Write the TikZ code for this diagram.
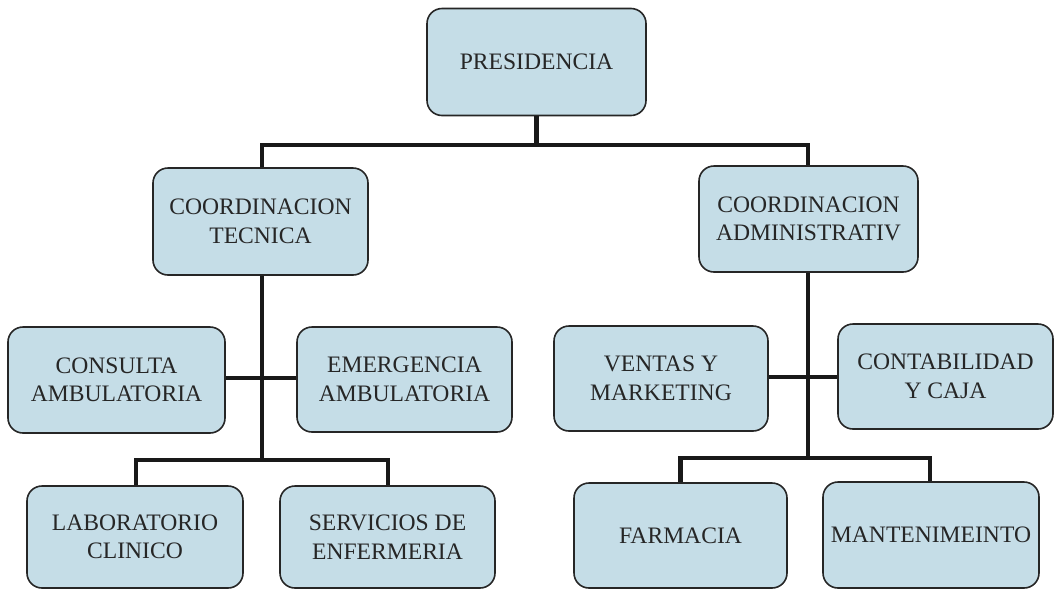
\documentclass[tikz,border=0pt]{standalone}
\usepackage{fontspec}
\setmainfont{Liberation Serif}
\begin{document}
\begin{tikzpicture}[x=1pt,y=-1pt,
  orgbox/.style={draw=black!85, line width=1.6pt, fill=boxblue, rounded corners=15pt,
    align=center, inner sep=0pt, font=\fontsize{23.6}{28.5}\selectfont, text=black!85},
  link/.style={line width=4.5pt, draw=black!90}]
\definecolor{boxblue}{RGB}{197,221,231}
\useasboundingbox (0,0) rectangle (1062,590);
\node[orgbox, minimum width=219pt, minimum height=107pt] (P) at (536.5,62) {PRESIDENCIA};
\node[orgbox, minimum width=215pt, minimum height=107pt] (CT) at (260.5,221.5) {COORDINACION\\TECNICA};
\node[orgbox, minimum width=219pt, minimum height=106pt] (CA) at (808.5,219) {COORDINACION\\ADMINISTRATIV};
\node[orgbox, minimum width=217pt, minimum height=106pt] (CON) at (116.5,380) {CONSULTA\\AMBULATORIA};
\node[orgbox, minimum width=215pt, minimum height=105pt] (EME) at (404.5,379.5) {EMERGENCIA\\AMBULATORIA};
\node[orgbox, minimum width=216pt, minimum height=102pt] (LAB) at (135,537) {LABORATORIO\\CLINICO};
\node[orgbox, minimum width=215pt, minimum height=102pt] (SER) at (387.5,537) {SERVICIOS DE\\ENFERMERIA};
\node[orgbox, minimum width=214pt, minimum height=105pt] (VEN) at (661,378.5) {VENTAS Y\\MARKETING};
\node[orgbox, minimum width=215pt, minimum height=105pt] (CONT) at (945.5,376.5) {CONTABILIDAD\\Y CAJA};
\node[orgbox, minimum width=213pt, minimum height=105pt] (FAR) at (680.5,535.5) {FARMACIA};
\node[orgbox, minimum width=216pt, minimum height=106pt] (MAN) at (931,535) {MANTENIMEINTO};
% junction points
\coordinate (top) at (536.5,145);
\coordinate (tl) at (262,145);
\coordinate (tr) at (808,145);
\coordinate (lm) at (262,378);
\coordinate (lb) at (262,460);
\coordinate (lbl) at (136,460);
\coordinate (lbr) at (388,460);
\coordinate (rm) at (808,377);
\coordinate (rb) at (808,458);
\coordinate (rbl) at (680.5,458);
\coordinate (rbr) at (930,458);
\draw[link] (P.south) -- (top);
\draw[link] (CT.north -| tl) -- (tl) -- (tr) -- (CA.north -| tr);
\draw[link] (CT.south -| lb) -- (lb);
\draw[link] (CON.east |- lm) -- (EME.west |- lm);
\draw[link] (LAB.north -| lbl) -- (lbl) -- (lbr) -- (SER.north -| lbr);
\draw[link] (CA.south -| rb) -- (rb);
\draw[link] (VEN.east |- rm) -- (CONT.west |- rm);
\draw[link] (FAR.north -| rbl) -- (rbl) -- (rbr) -- (MAN.north -| rbr);
\end{tikzpicture}
\end{document}
